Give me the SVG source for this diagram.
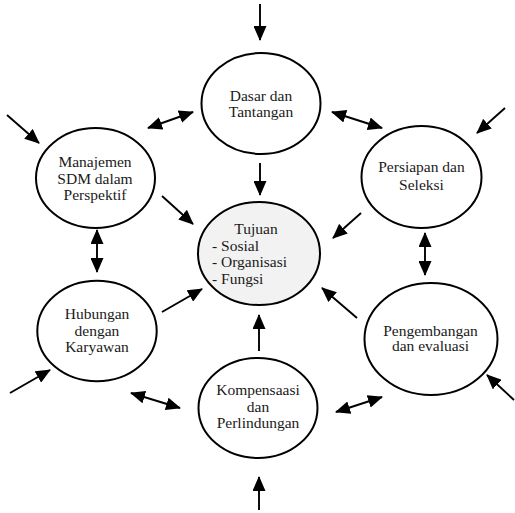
<svg xmlns="http://www.w3.org/2000/svg" width="515" height="513" viewBox="0 0 515 513">
<style>
.n{fill:#fff;stroke:#000;stroke-width:2}
.c{fill:#f2f2f2}
text{font-family:"Liberation Serif","Times New Roman",serif;font-size:15.5px;fill:#1a1a1a}
.m{text-anchor:middle}
.a{stroke:#000;stroke-width:1.9;fill:none;marker-end:url(#ah)}
.d{marker-start:url(#ah)}
</style>
<defs>
<marker id="ah" markerUnits="userSpaceOnUse" markerWidth="15" markerHeight="13" viewBox="0 0 15 13" refX="14" refY="6.5" orient="auto-start-reverse">
<path d="M0,0 L15,6.5 L0,13 Z" fill="#000"/>
</marker>
</defs>
<rect width="515" height="513" fill="#fff"/>
<g id="connectors">
<line class="a" x1="260" y1="4" x2="260" y2="40"/>
<line class="a" x1="260" y1="163" x2="260" y2="195"/>
<line class="a d" x1="148" y1="128" x2="193" y2="112"/>
<line class="a d" x1="332" y1="112" x2="382" y2="128"/>
<line class="a" x1="7" y1="115" x2="39" y2="143"/>
<line class="a" x1="505" y1="108" x2="477" y2="133"/>
<line class="a" x1="162" y1="196" x2="193" y2="224"/>
<line class="a" x1="361" y1="213" x2="333" y2="238"/>
<line class="a d" x1="97" y1="230" x2="97" y2="272"/>
<line class="a d" x1="425" y1="233" x2="425" y2="275"/>
<line class="a" x1="162" y1="312" x2="202" y2="289"/>
<line class="a" x1="357" y1="318" x2="322" y2="288"/>
<line class="a" x1="259" y1="351" x2="259" y2="315"/>
<line class="a" x1="10" y1="393" x2="50" y2="370"/>
<line class="a d" x1="131" y1="393" x2="180" y2="408"/>
<line class="a d" x1="336" y1="412" x2="382" y2="397"/>
<line class="a" x1="514" y1="400" x2="487" y2="375"/>
<line class="a" x1="259" y1="510" x2="259" y2="477"/>
</g>
<g id="dasar">
<ellipse class="n" cx="261" cy="103.5" rx="59.5" ry="50.5"/>
<text class="m" x="261" y="100.5">Dasar dan</text>
<text class="m" x="261" y="116.5">Tantangan</text>
</g>
<g id="tujuan">
<ellipse class="n c" cx="259" cy="253.5" rx="61" ry="51.5"/>
<text class="m" x="256" y="234">Tujuan</text>
<text x="212" y="250.5">- Sosial</text>
<text x="212" y="267">- Organisasi</text>
<text x="212" y="283.5">- Fungsi</text>
</g>
<g id="manajemen">
<ellipse class="n" cx="95.5" cy="178" rx="59.5" ry="50"/>
<text class="m" x="95" y="166.5">Manajemen</text>
<text class="m" x="95" y="183.5">SDM dalam</text>
<text class="m" x="95" y="200">Perspektif</text>
</g>
<g id="persiapan">
<ellipse class="n" cx="421.5" cy="177" rx="60" ry="51"/>
<text class="m" x="421.5" y="171.5">Persiapan dan</text>
<text class="m" x="421.5" y="189.5">Seleksi</text>
</g>
<g id="hubungan">
<ellipse class="n" cx="97" cy="331" rx="59.7" ry="50.3"/>
<text class="m" x="97" y="319">Hubungan</text>
<text class="m" x="97" y="335.5">dengan</text>
<text class="m" x="97" y="352">Karyawan</text>
</g>
<g id="kompensaasi">
<ellipse class="n" cx="258" cy="408" rx="59.5" ry="50"/>
<text class="m" x="258" y="395">Kompensaasi</text>
<text class="m" x="258" y="411.5">dan</text>
<text class="m" x="258" y="428">Perlindungan</text>
</g>
<g id="pengembangan">
<ellipse class="n" cx="431" cy="339" rx="66.5" ry="56"/>
<text class="m" x="430.5" y="335.5">Pengembangan</text>
<text class="m" x="430.5" y="351">dan evaluasi</text>
</g>
</svg>
